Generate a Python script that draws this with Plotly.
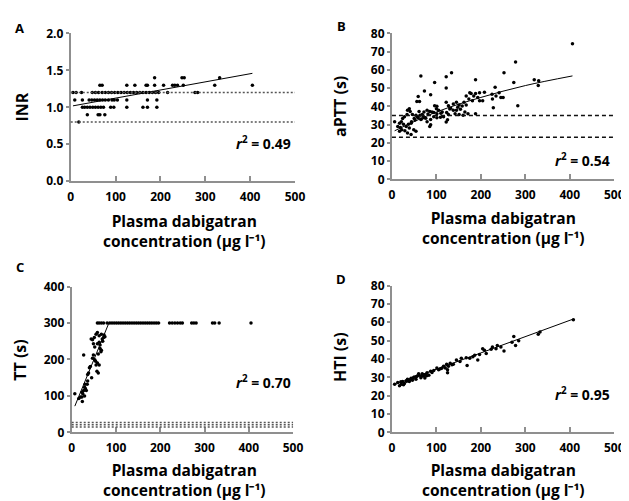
import plotly.graph_objects as go

# ---- data ----
# A: INR
inr_x = [18,
         37, 61, 65, 76,
         26, 31, 37, 43, 49, 55, 61, 67, 73, 89, 96, 125, 161, 171, 192,
         9, 26, 41, 47, 53, 59, 65, 71, 77, 84, 92, 97, 104, 125, 171, 192,
         5, 12, 24, 48, 55, 62, 70, 77, 84, 91, 98, 105, 112, 119, 126,
         133, 140, 147, 154, 161, 168, 175, 182, 189, 196, 216, 277, 283,
         65, 70, 125, 143, 168, 171, 187, 207, 227, 232, 238, 251, 321, 405,
         187, 248, 253, 332]
inr_y = [0.8,
         0.9, 0.9, 0.9, 0.9,
         1.0, 1.0, 1.0, 1.0, 1.0, 1.0, 1.0, 1.0, 1.0, 1.0, 1.0, 1.0, 1.0, 1.0, 1.0,
         1.1, 1.1, 1.1, 1.1, 1.1, 1.1, 1.1, 1.1, 1.1, 1.1, 1.1, 1.1, 1.1, 1.1, 1.1, 1.1,
         1.2, 1.2, 1.2, 1.2, 1.2, 1.2, 1.2, 1.2, 1.2, 1.2, 1.2, 1.2, 1.2, 1.2, 1.2,
         1.2, 1.2, 1.2, 1.2, 1.2, 1.2, 1.2, 1.2, 1.2, 1.2, 1.2, 1.2, 1.2,
         1.3, 1.3, 1.3, 1.3, 1.3, 1.3, 1.3, 1.3, 1.3, 1.3, 1.3, 1.3, 1.3, 1.3,
         1.4, 1.4, 1.4, 1.4]
inr_fit_x = [5, 405]
inr_fit_y = [1.02, 1.46]
inr_ref = [0.8, 1.2]

# B: aPTT
aptt_x = [65, 122, 134, 252, 96, 122, 188, 320, 330, 329, 232, 274, 73, 87, 59, 56, 62, 122,
          167, 175, 178, 188, 197, 208, 184, 193, 225, 234, 241, 245, 226, 204, 228, 283, 250,
          173, 181, 162, 167, 138, 145, 151, 127, 132, 138, 145, 154, 164, 171, 188, 197, 123,
          127, 101, 100, 96, 105, 79, 85, 90, 94, 72, 68, 61, 63, 59, 54, 50, 46, 39, 41, 35,
          34, 28, 24, 21, 17, 6, 13, 19, 22, 26, 32, 37, 43, 39, 29, 35, 17, 49, 54, 43, 65,
          72, 79, 87, 85, 101, 109, 122, 125, 116, 142, 151, 160, 101, 113, 94, 87, 406, 278,
          44, 52, 57, 66, 70, 76, 81, 110, 130, 148, 158]
aptt_y = [56.7, 56.3, 58.4, 58.4, 53.1, 50.1, 54.6, 54.6, 54.0, 51.4, 50.5, 53.1, 48.4, 46.3,
          45.4, 42.7, 42.7, 42.2, 45.7, 47.4, 47.0, 47.0, 47.4, 47.7, 45.7, 44.9, 46.6, 45.7,
          47.4, 44.9, 44.0, 43.1, 39.2, 40.4, 44.9, 44.0, 43.1, 42.2, 40.8, 41.3, 42.2, 40.8,
          40.4, 39.0, 37.8, 37.8, 38.4, 36.9, 36.0, 36.0, 43.1, 36.6, 35.5, 40.1, 38.7, 40.4,
          37.8, 37.8, 37.2, 36.9, 36.6, 36.9, 35.5, 37.2, 35.1, 33.7, 35.1, 33.4, 35.5, 38.7,
          37.2, 37.8, 35.5, 34.3, 33.4, 31.6, 30.8, 31.6, 29.0, 28.4, 27.2, 30.2, 29.0, 30.2,
          30.8, 28.1, 26.6, 25.4, 26.3, 27.2, 26.3, 24.6, 32.8, 33.7, 31.6, 29.9, 29.0, 33.7,
          34.0, 31.4, 32.6, 34.3, 36.0, 35.5, 35.1, 36.0, 36.9, 34.3, 32.8, 74.3, 64.3,
          31.5, 32.5, 34.2, 33.0, 34.8, 33.5, 35.8, 36.2, 38.5, 39.5, 40.2]
aptt_fit_x = [6, 100, 200, 300, 406]
aptt_fit_y = [26.6, 36.9, 44.9, 51.4, 56.7]
aptt_ref = [23, 35]

# C: TT
tt_x = [7, 16, 20, 23, 25, 27, 23, 29, 30, 35, 33, 36, 27, 38, 40, 42, 36, 49, 47, 52, 55,
        58, 57, 60, 62, 44, 47, 51, 49, 52, 58, 62, 64, 66, 67, 69, 72, 73, 67, 62, 55, 58,
        24, 29, 31, 45, 54, 60, 64, 70, 75,
        58, 62, 67, 72, 80, 86, 91, 96, 101, 106, 111, 116, 121, 126, 131, 136, 141, 146,
        151, 156, 161, 166, 171, 176, 181, 186, 191, 196, 221, 227,
        233, 239, 245, 250, 271, 276, 281, 318, 323, 333, 405]
tt_y = [106, 93, 97, 97, 106, 115, 110, 124, 132, 132, 115, 141, 212, 163, 177, 181, 159,
        212, 203, 199, 185, 190, 168, 163, 185, 256, 254, 260, 243, 234, 243, 247, 230, 221,
        225, 256, 260, 267, 269, 265, 269, 274,
        85, 100, 120, 150, 195, 215, 240, 250, 262,
        300, 300, 300, 300, 300, 300, 300, 300, 300, 300, 300, 300, 300, 300, 300, 300, 300,
        300, 300, 300, 300, 300, 300, 300, 300, 300, 300, 300, 300, 300, 300,
        300, 300, 300, 300, 300, 300, 300, 300, 300, 300, 300]
tt_fit_x = [7, 84, 200]
tt_fit_y = [72, 300, 300]
tt_ref = [15, 21, 27]

# D: HTI
hti_x = [6, 13, 17, 21, 24, 28, 32, 35, 39, 43, 46, 50, 54, 57, 61, 65, 68, 72, 76, 79, 83,
         87, 94, 101, 105, 109, 116, 120, 123, 125, 125, 127, 131, 138, 145, 153, 156, 167,
         169, 175, 182, 186, 193, 197, 204, 208, 212, 223, 226, 234, 237, 245, 252, 270, 274,
         278, 285, 329, 333, 408,
         20, 26, 33, 40, 48, 55, 60, 66, 70, 74, 78, 90, 112, 135]
hti_y = [26.3, 27.2, 25.4, 26.3, 27.7, 26.7, 28.1, 29.0, 27.7, 29.5, 28.4, 30.2, 29.0, 30.7,
         31.2, 29.8, 31.9, 30.7, 31.6, 32.5, 31.2, 33.3, 33.7, 35.1, 34.2, 34.7, 36.0, 35.1,
         37.2, 34.2, 32.5, 36.0, 37.7, 37.2, 39.5, 38.6, 40.4, 40.7, 36.5, 40.4, 41.2, 42.1,
         39.5, 42.4, 45.6, 44.7, 43.0, 45.3, 46.5, 45.6, 47.4, 46.5, 44.4, 49.1, 52.3, 47.4,
         50.0, 53.5, 54.7, 61.4,
         27.6, 26.0, 27.9, 28.6, 29.8, 30.4, 32.0, 30.5, 31.4, 29.6, 30.9, 32.6, 35.0, 36.8]
hti_fit_x = [5, 405]
hti_fit_y = [26.0, 61.5]

W, H = 629, 501
FONT = "Open Sans"
AXIS_GREY = "#8f8f8f"
XTITLE = "Plasma dabigatran<br>concentration (µg l⁻¹)"

panels = [
    dict(ax="", x=inr_x, y=inr_y, fx=inr_fit_x, fy=inr_fit_y, shape="linear", refs=inr_ref,
         dash="2px,2px", refcol="#555555", yr=[0, 2], dt=0.5, fmt=".1f", label="A",
         ytitle="INR", r2="0.49", px=(61, 290), py=(17, 170), r2pos=(258, 130), lab=(9, 11),
         yt=(11, 93), xt=(177, 221)),
    dict(ax="2", x=aptt_x, y=aptt_y, fx=aptt_fit_x, fy=aptt_fit_y, shape="spline",
         refs=aptt_ref, dash="4px,3px", refcol="#111111", yr=[0, 80], dt=10, fmt="d",
         label="B", ytitle="aPTT (s)", r2="0.54", px=(389, 616), py=(17, 168),
         r2pos=(584, 148), lab=(337, 9), yt=(336, 93), xt=(503, 218)),
    dict(ax="3", x=tt_x, y=tt_y, fx=tt_fit_x, fy=tt_fit_y, shape="linear", refs=tt_ref,
         dash="2px,2px", refcol="#555555", yr=[0, 400], dt=100, fmt="d", label="C",
         ytitle="TT (s)", r2="0.70", px=(62, 288), py=(279, 430), r2pos=(258, 378),
         lab=(9, 259), yt=(9, 355), xt=(177, 479)),
    dict(ax="4", x=hti_x, y=hti_y, fx=hti_fit_x, fy=hti_fit_y, shape="linear", refs=[],
         dash="2px,2px", refcol="#555555", yr=[0, 80], dt=10, fmt="d", label="D",
         ytitle="HTI (s)", r2="0.95", px=(389, 616), py=(278, 430), r2pos=(584, 390),
         lab=(337, 271), yt=(336, 352), xt=(503, 479)),
]

fig = go.Figure()
tickfont = dict(family=FONT, size=12, color="black", weight="bold")
annots = []

for p in panels:
    xa, ya = "x" + p["ax"], "y" + p["ax"]
    fig.add_trace(go.Scatter(x=p["x"], y=p["y"], mode="markers", xaxis=xa, yaxis=ya,
                             marker=dict(size=3.5, color="black"), showlegend=False))
    fig.add_trace(go.Scatter(x=p["fx"], y=p["fy"], mode="lines", xaxis=xa, yaxis=ya,
                             line=dict(color="black", width=1, shape=p["shape"]),
                             showlegend=False))
    for v in p["refs"]:
        fig.add_shape(type="line", xref=xa + " domain", x0=0, x1=1, yref=ya, y0=v, y1=v,
                      line=dict(color=p["refcol"], width=1.5, dash=p["dash"]))

    fig.update_layout({
        "xaxis" + p["ax"]: dict(
            domain=[p["px"][0] / W, p["px"][1] / W], anchor=ya, range=[0, 500], dtick=100,
            ticks="inside", ticklen=5, tickcolor=AXIS_GREY, tickwidth=1.5, showline=True,
            linecolor=AXIS_GREY, linewidth=2, showgrid=False, zeroline=False,
            tickfont=tickfont, ticklabelstandoff=3),
        "yaxis" + p["ax"]: dict(
            domain=[1 - p["py"][1] / H, 1 - p["py"][0] / H], anchor=xa, range=p["yr"],
            dtick=p["dt"], tickformat=p["fmt"], ticks="outside", ticklen=3,
            tickcolor=AXIS_GREY, tickwidth=1.5, showline=True, linecolor=AXIS_GREY,
            linewidth=2, showgrid=False, zeroline=False, tickfont=tickfont),
    })

    bold = dict(family=FONT, color="black", weight="bold")
    annots += [
        dict(text=p["label"], x=p["lab"][0] / W, y=1 - p["lab"][1] / H,
             font=dict(size=13, **bold)),
        dict(text=p["ytitle"], x=p["yt"][0] / W, y=1 - p["yt"][1] / H, textangle=-90,
             font=dict(size=16, **bold)),
        dict(text="<i>r</i><sup>2</sup> = " + p["r2"], x=p["r2pos"][0] / W,
             y=1 - p["r2pos"][1] / H, font=dict(size=14, **bold)),
        dict(text=XTITLE, x=p["xt"][0] / W, y=1 - p["xt"][1] / H,
             font=dict(size=15.5, **bold)),
    ]

for a in annots:
    a.update(xref="paper", yref="paper", showarrow=False, xanchor="center", yanchor="middle")

fig.update_layout(width=W, height=H, margin=dict(l=0, r=0, t=0, b=0),
                  paper_bgcolor="white", plot_bgcolor="white", annotations=annots,
                  font=dict(family=FONT))

fig.write_html("out.html")
